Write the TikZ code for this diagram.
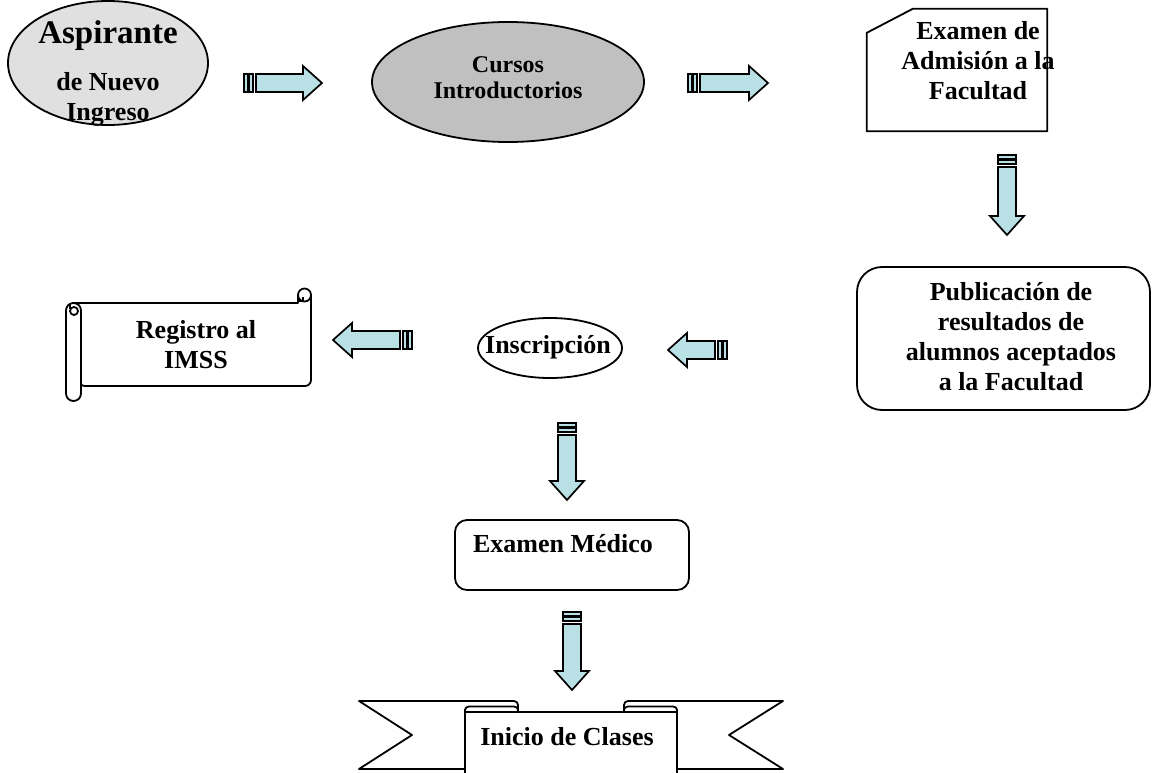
\documentclass[tikz,border=0pt]{standalone}
\usepackage{fontspec}
\setmainfont{Liberation Serif}
\usetikzlibrary{shapes.geometric}
\definecolor{arrowfill}{RGB}{185,224,228}
\definecolor{lgray}{RGB}{224,224,224}
\definecolor{mgray}{RGB}{192,192,192}
\tikzset{
  shp/.style={draw=black, line width=1.8pt, line join=round},
  arr/.style={draw=black, fill=arrowfill, line width=1.7pt, line join=miter},
  lbl/.style={font=\fontsize{26}{30}\selectfont\bfseries, align=center, inner sep=0pt},
  sarrow/.pic={
    \draw[arr] (0,-9) rectangle (4,9);
    \draw[arr] (5,-9) rectangle (9,9);
    \draw[arr] (12,-9) -- (#1-19,-9) -- (#1-19,-17) -- (#1,0) -- (#1-19,17) -- (#1-19,9) -- (12,9) -- cycle;
  }
}
\begin{document}
\begin{tikzpicture}[x=1pt,y=-1pt]
\fill[white] (0,0) rectangle (1152,773);
\useasboundingbox (0,0) rectangle (1152,773);

% Aspirante
\node[shp, ellipse, fill=lgray, minimum width=200, minimum height=124, inner sep=0pt] (asp) at (108,63) {};
\node[lbl, font=\fontsize{33}{36}\selectfont\bfseries] (aspT1) at (108,36) {Aspirante};
\node[lbl] (aspT2) at (108,99) {de Nuevo\\Ingreso};

% Cursos
\node[shp, ellipse, fill=mgray, minimum width=272, minimum height=120, inner sep=0pt] (cur) at (508,82) {};
\node[lbl, font=\fontsize{24}{26}\selectfont\bfseries] (curT) at (508,78) {Cursos\\Introductorios};

% Examen de admision (card)
\node[minimum width=180, minimum height=122, inner sep=0pt] (exa) at (957,70) {};
\draw[shp, fill=white] ([yshift=-24pt]exa.north west) -- ([xshift=46pt]exa.north west) -- (exa.north east) -- (exa.south east) -- (exa.south west) -- cycle;
\node[lbl] (exaT) at (978,61) {Examen de\\Admisión a la\\Facultad};

% Publicacion
\node[shp, fill=white, rounded corners=25pt, minimum width=293, minimum height=143, inner sep=0pt] (pub) at (1003.5,338.5) {};
\node[lbl] (pubT) at (1011,337) {Publicación de\\resultados de\\alumnos aceptados\\a la Facultad};

% Inscripcion
\node[shp, ellipse, fill=white, minimum width=144, minimum height=60, inner sep=0pt] (ins) at (550,348) {};
\node[lbl] (insT) at (548,347) {Inscripción};

% Registro al IMSS (scroll)
\node[minimum width=230, minimum height=84, inner sep=0pt] (reg) at (196,345) {};
\draw[shp, fill=white] (73,303) -- (298,303) -- (298,295) -- (311,295) [rounded corners=6pt] -- (311,386) -- (79,386) [sharp corners] -- cycle;
\draw[shp, fill=white] (304.5,295) circle (6.5);
\draw[shp] (298,301) -- (303,301) -- (303,297);
\draw[shp, fill=white, rounded corners=7.5pt] (66,303) rectangle (81,401);
\draw[shp] (74,311) circle (4);
\draw[shp] (70,309) -- (70,303);
\node[lbl] (regT) at (196,345) {Registro al\\IMSS};

% Examen Medico
\node[shp, fill=white, rounded corners=12pt, minimum width=234, minimum height=70, inner sep=0pt] (med) at (572,555) {};
\node[lbl] (medT) at (563,544) {Examen Médico};

% Inicio de clases (ribbon)
\draw[shp, fill=white] (470,769) -- (359,769) -- (412,735) -- (359,701) -- (514,701) to[out=0,in=90] (518,705) -- (518,720) -- (470,720) -- cycle;
\draw[shp, fill=white] (672,769) -- (783,769) -- (729,735) -- (783,701) -- (628,701) to[out=180,in=90] (624,705) -- (624,720) -- (672,720) -- cycle;
\draw[shp, fill=white] (465,774) -- (465,710) to[out=90,in=180] (469,706.5) -- (514,706.5) to[out=0,in=90] (518,710) -- (518,712) -- (624,712) -- (624,710) to[out=90,in=180] (628,706.5) -- (673,706.5) to[out=0,in=90] (677,710) -- (677,774);
\draw[shp] (465,712) -- (518,712);
\draw[shp] (624,712) -- (677,712);
\node[lbl] (iniT) at (567,737) {Inicio de Clases};

% block arrows
\pic at (244,83) {sarrow=78};
\pic at (688,83) {sarrow=80};
\pic[rotate=-90] at (1007,155) {sarrow=80};
\pic[rotate=180] at (727,350) {sarrow=59};
\pic[rotate=180] at (412,340) {sarrow=79};
\pic[rotate=-90] at (567,423) {sarrow=77};
\pic[rotate=-90] at (572,612) {sarrow=78};
\end{tikzpicture}
\end{document}
